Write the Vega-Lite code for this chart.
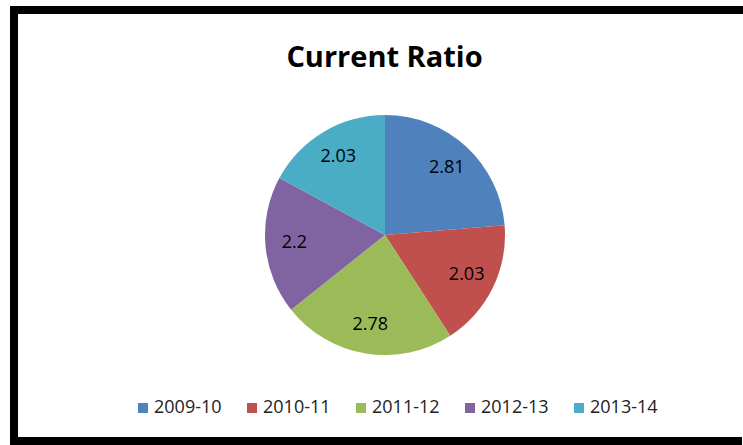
{
  "$schema": "https://vega.github.io/schema/vega-lite/v6.json",
  "autosize": "none",
  "width": 729,
  "height": 431,
  "padding": {"left": 14, "top": 10, "right": 0, "bottom": 4},
  "background": "white",
  "view": {"stroke": "black", "strokeWidth": 8, "strokeDash": [729, 432, 2000]},
  "title": {
    "text": "Current Ratio",
    "font": "Open Sans",
    "fontSize": 29,
    "fontWeight": "bold",
    "color": "black",
    "anchor": "middle",
    "offset": -63,
    "dx": 6
  },
  "data": {
    "values": [
      {"year": "2009-10", "ratio": 2.81},
      {"year": "2010-11", "ratio": 2.03},
      {"year": "2011-12", "ratio": 2.78},
      {"year": "2012-13", "ratio": 2.2},
      {"year": "2013-14", "ratio": 2.03}
    ]
  },
  "encoding": {
    "theta": {"field": "ratio", "type": "quantitative", "stack": true},
    "order": {"field": "year", "type": "ordinal"},
    "color": {
      "field": "year",
      "type": "nominal",
      "scale": {
        "domain": ["2009-10", "2010-11", "2011-12", "2012-13", "2013-14"],
        "range": ["#4F81BD", "#C0504D", "#9BBB59", "#8064A2", "#4BACC6"]
      },
      "legend": {
        "orient": "none",
        "legendX": 120,
        "legendY": 389,
        "direction": "horizontal",
        "title": null,
        "symbolType": "square",
        "symbolSize": 100,
        "symbolStrokeWidth": 0,
        "labelFont": "Open Sans",
        "labelFontSize": 18,
        "labelColor": "#222222",
        "labelOffset": 2,
        "columnPadding": 21,
        "padding": 0
      }
    }
  },
  "layer": [
    {"mark": {"type": "arc", "outerRadius": 120, "xOffset": 6.5, "yOffset": 9.5}},
    {
      "mark": {"type": "text", "radius": 91, "font": "Open Sans", "fontSize": 18, "xOffset": 6.5, "yOffset": 9.5},
      "encoding": {
        "text": {"field": "ratio", "type": "quantitative"},
        "color": {"value": "black"},
        "detail": {"field": "year", "type": "nominal"}
      }
    }
  ]
}
